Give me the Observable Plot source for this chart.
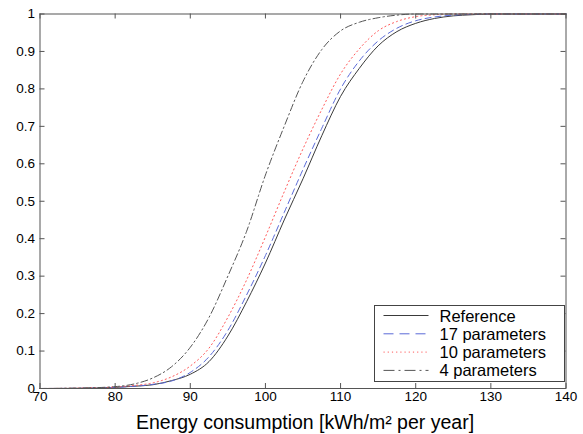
<!DOCTYPE html>
<html><head><meta charset="utf-8">
<script src="https://cdn.jsdelivr.net/npm/d3@7"></script>
<script src="https://cdn.jsdelivr.net/npm/@observablehq/plot@0.6"></script>
<style>body{margin:0;background:#fff}</style>
</head><body><div id="chart"></div>
<script>
const xs = [70,75,80,82.5,85,87.5,90,92.5,95,97.5,100,102.5,105,107.5,110,112.5,115,117.5,120,122.5,125,127.5,130,135,140];
const reference = [0,0.0005,0.003,0.006,0.01,0.021,0.038,0.072,0.14,0.232,0.335,0.45,0.56,0.675,0.78,0.855,0.915,0.953,0.975,0.988,0.995,0.998,1,1,1];
const params17 = [0,0.0005,0.003,0.006,0.011,0.02,0.043,0.085,0.155,0.25,0.355,0.47,0.585,0.695,0.8,0.875,0.928,0.962,0.982,0.992,0.997,0.999,1,1,1];
const params10 = [0,0.001,0.004,0.008,0.015,0.031,0.06,0.108,0.19,0.29,0.405,0.525,0.64,0.745,0.84,0.907,0.955,0.98,0.993,0.998,1,1,1,1,1];
const params4 = [0,0.001,0.005,0.012,0.028,0.058,0.11,0.19,0.3,0.42,0.57,0.7,0.82,0.905,0.955,0.978,0.99,0.997,1,1,1,1,1,1,1];
const seriesNames = ["Reference","17 parameters","10 parameters","4 parameters"];
const xTicks = [70,80,90,100,110,120,130,140];
const yTicks = [0,0.1,0.2,0.3,0.4,0.5,0.6,0.7,0.8,0.9,1];
const xLabel = "Energy consumption [kWh/m\u00B2 per year]";

const styles = [
  {stroke:"#3a3a3a", dash:null, legendDash:null},
  {stroke:"#5a6ad8", dash:"6,4", legendDash:"10,6"},
  {stroke:"#ff5a5a", dash:"1.2,3", legendDash:"1.2,3"},
  {stroke:"#555555", dash:"7,3,1.5,3", legendDash:"11,4,2,4"}
];
const allValues = [reference, params17, params10, params4];
const rows = allValues.flatMap((vals, k) => xs.map((x, i) => ({x, y: vals[i], name: seriesNames[k]})));

const axisColor = "#555";
const W = 583, H = 434;
const mL = 39.5, mR = 17.5, mT = 13.5, mB = 46;
const tickPx = 5;
const xTickLen = tickPx * 70 / (W - mL - mR);
const yTickLen = tickPx * 1 / (H - mT - mB);

const lineMarks = seriesNames.map((n, k) => Plot.line(rows.filter(r => r.name === n), {
  x: "x", y: "y", stroke: styles[k].stroke, strokeWidth: 1,
  strokeDasharray: styles[k].dash, curve: "monotone-x"
}));

const plot = Plot.plot({
  width: W, height: H,
  marginLeft: mL, marginRight: mR, marginTop: mT, marginBottom: mB,
  style: {fontFamily: "'Liberation Sans', Arial, sans-serif", background: "#fff", color: "#000"},
  x: {domain: [70, 140]},
  y: {domain: [0, 1]},
  marks: [
    Plot.axisX({ticks: xTicks, tickSize: 0, tickPadding: 3, fontSize: 13.5, label: null, tickFormat: d => String(d)}),
    Plot.axisY({ticks: yTicks, tickSize: 0, tickPadding: 5, fontSize: 13.5, label: null, tickFormat: d => String(+d.toFixed(1))}),
    ...lineMarks,
    Plot.ruleX(xTicks, {x: d => d, y1: 0, y2: yTickLen, stroke: axisColor}),
    Plot.ruleX(xTicks, {x: d => d, y1: 1, y2: 1 - yTickLen, stroke: axisColor}),
    Plot.ruleY(yTicks, {y: d => d, x1: 70, x2: 70 + xTickLen, stroke: axisColor}),
    Plot.ruleY(yTicks, {y: d => d, x1: 140, x2: 140 - xTickLen, stroke: axisColor}),
    Plot.frame({stroke: axisColor}),
    Plot.text([xLabel], {text: d => d, frameAnchor: "bottom", lineAnchor: "bottom", dy: 40.5, dx: 2, fontSize: 19.5, fill: "#000"})
  ]
});
document.getElementById("chart").appendChild(plot);

// legend box in the lower-right corner of the plot area
const svg = d3.select(plot);
const lg = svg.append("g").attr("font-family", "'Liberation Sans', Arial, sans-serif").attr("text-anchor", "start");
const lx = 374.5, ly = 305.5, lw = 190, lh = 76;
lg.append("rect").attr("x", lx).attr("y", ly).attr("width", lw).attr("height", lh)
  .attr("fill", "#fff").attr("stroke", "#444").attr("stroke-width", 1);
seriesNames.forEach((n, k) => {
  const cy = ly + 10 + k * 18.3;
  lg.append("line").attr("x1", lx + 9).attr("x2", lx + 54).attr("y1", cy).attr("y2", cy)
    .attr("stroke", styles[k].stroke).attr("stroke-width", 1)
    .attr("stroke-dasharray", styles[k].legendDash);
  lg.append("text").attr("x", lx + 65).attr("y", cy + 6).attr("font-size", 16.5)
    .attr("fill", "#000").attr("text-anchor", "start").text(n);
});
</script>
</body></html>
